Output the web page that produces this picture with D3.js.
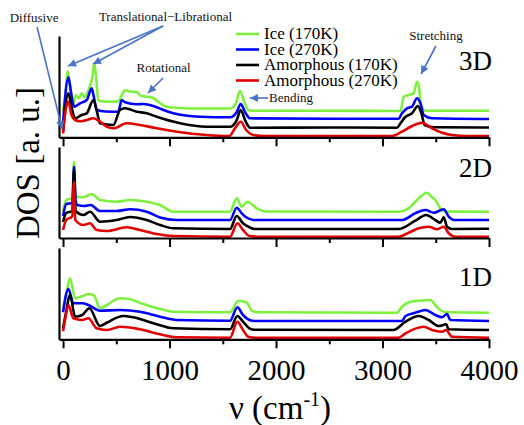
<!DOCTYPE html>
<html><head><meta charset="utf-8">
<script src="https://cdn.jsdelivr.net/npm/d3@7"></script>
<style>body{margin:0;background:#fff}svg{display:block}text{font-family:"Liberation Serif","Times New Roman",serif}</style>
</head><body><svg id="c" width="524" height="425"></svg>
<script>
// ---------- DATA ----------
const seriesNames = ["Ice (170K)", "Ice (270K)", "Amorphous (170K)", "Amorphous (270K)"];
const panelNames = ["3D", "2D", "1D"];
const xTickLabels = [0, 1000, 2000, 3000, 4000];
const xMinorTicks = [500, 1500, 2500, 3500];

// 3D panel: [frequency cm^-1, DOS a.u. incl. offset]
const ice170_3D = [[0,26],[20,40],[45,66],[62,55],[82,37],[95,33],[120,42],[150,39],[175,44],[200,40],[230,45],[255,52],[275,60],[294,74],[312,58],[332,37],[360,36],[450,35.5],[520,36],[551,42],[582,47],[640,45.5],[692,45.3],[730,41.5],[754,41],[800,40.5],[848,39.3],[900,35],[973,30.6],[1099,29.3],[1300,28.8],[1568,28.8],[1620,33],[1662,46.6],[1700,36],[1740,27.3],[1800,26.5],[2500,26.5],[3169,26.3],[3199,40.6],[3246,42.3],[3293,44],[3324,55.6],[3340,52],[3365,30.6],[3403,26.6],[4000,26.5]];
const ice270_3D = [[0,14],[50,60],[75,45],[103,30.6],[160,34],[222,37.3],[269,49],[290,40],[316,27.3],[400,25.8],[519,25.6],[551,37.3],[582,35],[692,33],[754,33.3],[848,31.3],[950,27],[1036,24],[1286,20.6],[1568,20],[1630,25],[1668,33.3],[1710,25],[1756,19],[2500,18.5],[3150,18.5],[3183,24],[3230,29],[3277,30.6],[3324,39],[3356,34],[3387,22.3],[3465,19],[4000,18.3]];
const am170_3D = [[0,5.6],[50,44],[80,30],[113,19],[175,22.3],[222,24],[285,37.3],[320,25],[347,14],[473,12.3],[535,27.3],[582,29],[692,25.6],[786,24],[880,20.5],[1099,14],[1349,10.6],[1568,10.5],[1630,17],[1668,27.3],[1710,17],[1756,9.6],[2500,9.8],[3136,9.6],[3169,14],[3216,20.6],[3277,24],[3333,31.3],[3365,24],[3396,12.3],[3480,10],[4000,9.8]];
const am270_3D = [[0,4],[15,20],[50,35.6],[80,22],[113,17.3],[160,16],[222,17.3],[285,19],[347,15.6],[410,10.6],[473,9],[598,14],[723,12.3],[880,9],[1068,5.6],[1349,2.3],[1560,1.3],[1615,9],[1668,15.6],[1720,7.3],[1787,2.3],[1900,1.3],[3089,1.3],[3183,5.6],[3277,11.3],[3371,14.6],[3465,9],[3559,4.6],[3653,2.3],[3800,1.3],[4000,1.3]];

// 2D panel
const ice170_2D = [[0,27],[30,38],[88,40],[103,76.3],[118,42],[134,41.3],[191,40.7],[269,44],[347,38],[504,36.3],[629,38],[786,36.3],[911,33],[1036,26.3],[1568,26.3],[1631,39.7],[1678,31.3],[1731,36.3],[1819,29.7],[1900,26.5],[3152,26.3],[3246,29.7],[3324,38],[3418,45.3],[3460,41.3],[3496,38],[3543,29.7],[3590,26.5],[4000,26.3]];
const ice270_2D = [[0,22],[30,34],[88,35],[103,71.3],[118,37],[134,33],[200,32],[260,33],[347,27],[504,27],[629,28.7],[786,26.3],[911,20.5],[1067,18],[1568,18],[1631,30.3],[1678,24.7],[1720,20.7],[1787,18],[3183,18],[3308,24.7],[3403,28],[3481,25.3],[3575,28.7],[3622,21.3],[3669,18],[4000,18]];
const am170_2D = [[0,16],[30,25],[88,27],[103,68],[118,27],[191,23],[254,26.3],[347,16.3],[504,18],[629,21],[786,18],[911,13],[1036,9.7],[1568,9],[1631,22],[1690,14.7],[1750,10.7],[1800,9],[3152,9],[3308,17.3],[3409,23],[3496,18],[3543,15.3],[3575,20.7],[3606,11.3],[3653,9],[4000,9.3]];
const am270_2D = [[0,8],[30,18],[85,21.3],[103,56.3],[115,18],[191,13],[254,14.7],[316,8],[410,7],[598,10.7],[723,8],[880,4],[1036,2],[1568,1.3],[1637,14.7],[1690,8],[1750,2],[1850,1.3],[3152,1.3],[3246,5.3],[3340,9.7],[3434,11.3],[3512,8.7],[3575,11.3],[3622,4.7],[3684,1.3],[4000,1.3]];

// 1D panel
const ice170_1D = [[0,31],[30,45],[66,61],[113,41],[180,43],[238,45.3],[290,44],[347,31],[410,34.3],[535,41],[629,40],[754,35.3],[911,30.3],[1036,27.6],[1568,27],[1646,38.6],[1725,36.6],[1780,28],[1850,27],[3136,26.6],[3183,32.6],[3261,37.6],[3340,38.6],[3449,39.3],[3496,34.3],[3543,29.3],[3600,27],[4000,26.6]];
const ice270_1D = [[0,27],[50,50.3],[97,36],[180,36],[238,34.3],[347,28.6],[535,29.3],[723,27.6],[911,22.6],[1067,19.3],[1568,18.5],[1637,32],[1690,24.3],[1750,19.3],[1800,18.3],[3183,18.3],[3216,23.3],[3308,26.6],[3403,29.3],[3496,24.3],[3559,22],[3606,25.3],[3637,19.3],[4000,18.3]];
const am170_1D = [[0,11],[25,25],[66,44.3],[113,22.6],[180,24.3],[247,31],[347,13.3],[410,16.6],[566,23.3],[660,22],[848,16],[1036,11],[1568,10],[1637,23.3],[1690,17.6],[1750,11],[1800,9.6],[3100,9.3],[3216,17.6],[3340,23.3],[3434,19.3],[3528,13.3],[3599,15],[3620,10],[4000,9.3]];
const am270_1D = [[0,8],[20,20],[50,34.3],[97,21],[180,19.3],[238,21],[316,11],[410,9.3],[535,12.6],[723,10],[911,5],[1067,2],[1568,1.6],[1637,17.6],[1690,9.3],[1740,2.6],[1800,1.6],[3150,1.6],[3216,6],[3387,12.6],[3465,9.3],[3559,7.6],[3596,9.3],[3653,2.6],[4000,1.6]];

// annotations (3D panel data coordinates)
const annotLabels = ["Diffusive", "Translational\u2212Librational", "Rotational", "Stretching", "Bending"];

// ---------- DRAW ----------
const svg = d3.select("#c");
const colors = ["#7ef03e", "#0000ff", "#000000", "#e00000"];
const panels = [
  {name: panelNames[0], top: 36, bottom: 137.3, data: [ice170_3D, ice270_3D, am170_3D, am270_3D], labelY: 70},
  {name: panelNames[1], top: 147, bottom: 238, data: [ice170_2D, ice270_2D, am170_2D, am270_2D], labelY: 177},
  {name: panelNames[2], top: 248, bottom: 339.3, data: [ice170_1D, ice270_1D, am170_1D, am270_1D], labelY: 286}
];
const x = d3.scaleLinear().domain([-38, 4000]).range([59, 489]);

panels.forEach((p, i) => {
  const y = d3.scaleLinear().domain([0, p.bottom - p.top]).range([p.bottom, p.top]);
  p.y = y;
  const g = svg.append("g");
  const line = d3.line().x(d => x(d[0])).y(d => y(d[1])).curve(d3.curveMonotoneX);
  p.data.forEach((s, k) => {
    g.append("path").attr("d", line(s)).attr("fill", "none")
      .attr("stroke", colors[k]).attr("stroke-width", 2.6).attr("stroke-linejoin", "round");
  });
  // left axis
  const ya = g.append("g").attr("transform", `translate(59,0)`)
    .call(d3.axisLeft(y).tickValues([]).tickSizeOuter(0));
  ya.select(".domain").attr("stroke-width", 2.2);
  // bottom axis major
  const xa = g.append("g").attr("transform", `translate(0,${p.bottom})`)
    .call(d3.axisBottom(x).tickValues(xTickLabels).tickSize(9).tickSizeOuter(0).tickPadding(6).tickFormat(d3.format("d")));
  xa.select(".domain").attr("stroke-width", 2.2);
  xa.selectAll(".tick line").attr("stroke-width", 2);
  xa.selectAll(".tick text").attr("font-size", 29).attr("font-family", "Liberation Serif").attr("fill", "#000")
    .attr("dy", "0.9em").style("display", i === 2 ? null : "none");
  const xm = g.append("g").attr("transform", `translate(0,${p.bottom})`)
    .call(d3.axisBottom(x).tickValues(xMinorTicks).tickSize(5).tickFormat(""));
  xm.select(".domain").remove();
  xm.selectAll(".tick line").attr("stroke-width", 2);
  g.append("text").attr("x", 492).attr("y", p.labelY).attr("text-anchor", "end")
    .attr("font-size", 27).text(p.name);
});

// legend
const legY = [34, 49.5, 65, 80.5];
seriesNames.forEach((n, k) => {
  svg.append("line").attr("x1", 236).attr("x2", 259).attr("y1", legY[k]).attr("y2", legY[k])
    .attr("stroke", colors[k]).attr("stroke-width", 2.6);
  svg.append("text").attr("x", 264).attr("y", legY[k] + 5.3).attr("font-size", 17).text(n);
});

// axis titles
svg.append("text").attr("transform", "translate(39,163) rotate(-90)").attr("text-anchor", "middle")
  .attr("font-size", 33).text("DOS [a. u.]");
const xt = svg.append("text").attr("x", 280).attr("y", 419).attr("text-anchor", "middle").attr("font-size", 33);
xt.append("tspan").text("\u03bd (cm");
xt.append("tspan").attr("font-size", 20).attr("dy", -13).text("-1");
xt.append("tspan").attr("dy", 13).text(")");

// annotations
const y3 = panels[0].y;
const arrowColor = "#4a74c6";
svg.append("defs").append("marker").attr("id", "ah").attr("viewBox", "0 0 10 10")
  .attr("refX", 10).attr("refY", 5).attr("markerWidth", 9).attr("markerHeight", 8)
  .attr("markerUnits", "userSpaceOnUse").attr("orient", "auto")
  .append("path").attr("d", "M0,0L10,5L0,10z").attr("fill", arrowColor);
const annots = [
  {t: annotLabels[0], tx: -272, ty: 115.3, anchor: "middle", arrows: [[-244, 110.3, -9, 8.3]]},
  {t: annotLabels[1], tx: 962, ty: 116.3, anchor: "middle", arrows: [[939, 111.3, 47, 71.3], [939, 111.3, 282, 73.3]]},
  {t: annotLabels[2], tx: 944, ty: 65.3, anchor: "middle", arrows: [[939, 59.3, 798, 44.3]]},
  {t: annotLabels[3], tx: 3502, ty: 97.3, anchor: "middle", arrows: [[3502, 91.3, 3362, 63.3]]},
  {t: annotLabels[4], tx: 1934, ty: 35.3, anchor: "start", arrows: [[1925, 39.3, 1756, 39.3]]}
];
annots.forEach(a => {
  svg.append("text").attr("x", x(a.tx)).attr("y", y3(a.ty)).attr("text-anchor", a.anchor)
    .attr("font-size", 13).attr("fill", "#111").text(a.t);
  a.arrows.forEach(r => {
    svg.append("line").attr("x1", x(r[0])).attr("y1", y3(r[1])).attr("x2", x(r[2])).attr("y2", y3(r[3]))
      .attr("stroke", arrowColor).attr("stroke-width", 1.6).attr("marker-end", "url(#ah)");
  });
});
</script></body></html>
